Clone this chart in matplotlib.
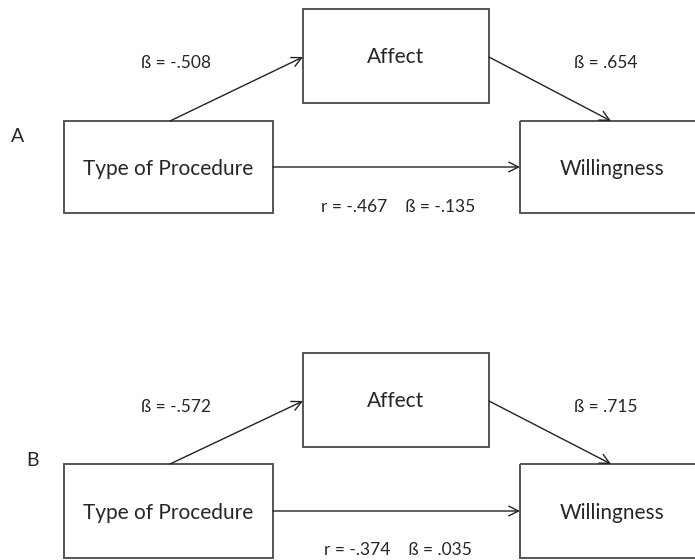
"""Mediation path diagram: Type of Procedure -> Affect -> Willingness."""
import matplotlib

matplotlib.use("Agg")
import matplotlib.pyplot as plt  # noqa: E402
from matplotlib.patches import Rectangle  # noqa: E402

plt.rcParams["font.family"] = ["Lato", "DejaVu Sans"]

# data
panels = ["A", "B"]
beta_a = [-0.508, -0.572]   # procedure -> affect
beta_b = [0.654, 0.715]     # affect -> willingness
r_total = [-0.467, -0.374]  # procedure -- willingness correlation
beta_c = [-0.135, 0.035]    # direct effect
node_names = ["Type of Procedure", "Affect", "Willingness"]


def fmt(v):
    s = f"{abs(v):.3f}".lstrip("0")
    return ("-" if v < 0 else "") + s


# layout (pixels, y down)
panel_xy = [(18, 136), (33, 461)]
affect_rows = [(9, 103), (353, 447)]
box_rows = [(121, 213), (464, 558)]
r_label_y = [207, 550]

fig = plt.figure(figsize=(6.95, 5.6), dpi=100)
ax = fig.add_axes([0, 0, 1, 1])
ax.set_xlim(0, 695)
ax.set_ylim(560, 0)
ax.axis("off")

edge = "#555555"
txt = "#262626"
arrow_kw = dict(arrowstyle="->,head_length=0.7,head_width=0.35", color="#222222",
                lw=1.0, shrinkA=0, shrinkB=0)

for i, p in enumerate(panels):
    aff_top, aff_bot = affect_rows[i]
    box_top, box_bot = box_rows[i]
    mid = (box_top + box_bot) / 2
    aff_mid_y = aff_top + 48

    # boxes: type, affect, willingness
    boxes = [(64, 273, box_top, box_bot), (303, 489, aff_top, aff_bot),
             (520, 704, box_top, box_bot)]
    for name, (x0, x1, y0, y1) in zip(node_names, boxes):
        ax.add_patch(Rectangle((x0, y0), x1 - x0, y1 - y0, fill=False,
                               ec=edge, lw=1.4))
        ty = mid + 2 if name != "Affect" else aff_top + 48
        tx = (x0 + x1) / 2 if name != "Willingness" else 612
        ax.text(tx, ty, name, ha="center", va="center", fontsize=15, color=txt)

    # arrows
    ax.annotate("", xy=(303, aff_mid_y), xytext=(170, box_top), arrowprops=arrow_kw)
    ax.annotate("", xy=(611, box_top), xytext=(489, aff_mid_y), arrowprops=arrow_kw)
    ax.annotate("", xy=(520, mid), xytext=(273, mid), arrowprops=arrow_kw)

    # coefficient labels
    ax.text(176, aff_mid_y + 6, f"ß = {fmt(beta_a[i])}", ha="center", va="center",
            fontsize=12.5, color=txt)
    ax.text(606, aff_mid_y + 6, f"ß = {fmt(beta_b[i])}", ha="center", va="center",
            fontsize=12.5, color=txt)
    ax.text(398, r_label_y[i], f"r = {fmt(r_total[i])}    ß = {fmt(beta_c[i])}",
            ha="center", va="center", fontsize=12.5, color=txt)

    ax.text(*panel_xy[i], p, ha="center", va="center", fontsize=14, color=txt)

fig.savefig("out.png", dpi=100, facecolor="white")
plt.close(fig)
